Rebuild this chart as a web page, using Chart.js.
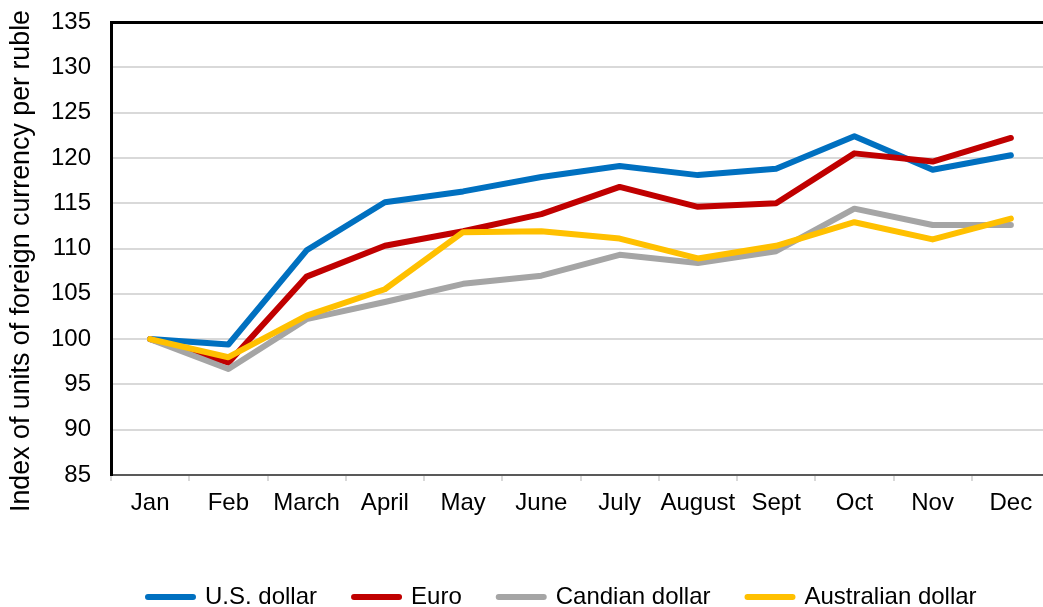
<!DOCTYPE html>
<html>
<head>
<meta charset="utf-8">
<script src="https://cdn.jsdelivr.net/npm/chart.js@4.4.1/dist/chart.umd.min.js"></script>
<style>
  html, body { margin: 0; padding: 0; background: #fff; overflow: hidden; }
  #wrap { width: 1050px; height: 619px; }
</style>
</head>
<body>
<div id="wrap"><canvas id="c" width="1050" height="619"></canvas></div>
<script>
// Ruble index chart: units of foreign currency per ruble, Jan = 100

const months = ['Jan', 'Feb', 'March', 'April', 'May', 'June', 'July', 'August', 'Sept', 'Oct', 'Nov', 'Dec'];
const usd = [100, 99.4, 109.8, 115.1, 116.3, 117.9, 119.1, 118.1, 118.8, 122.4, 118.7, 120.3];
const eur = [100, 97.4, 106.9, 110.3, 111.9, 113.8, 116.8, 114.6, 115.0, 120.5, 119.6, 122.2];
const cad = [100, 96.7, 102.2, 104.1, 106.1, 107.0, 109.3, 108.4, 109.7, 114.4, 112.6, 112.6];
const aud = [100, 98.0, 102.6, 105.5, 111.8, 111.9, 111.1, 108.9, 110.3, 112.9, 111.0, 113.3];

const Y_TITLE = 'Index of units of foreign currency per ruble';
const FONT = "'Liberation Sans', Arial, sans-serif";

const line = (label, data, color, order) => ({
  label,
  data,
  borderColor: color,
  backgroundColor: color,
  borderWidth: 6,
  borderCapStyle: 'round',
  borderJoinStyle: 'round',
  pointRadius: 0,
  pointHoverRadius: 0,
  tension: 0,
  order,
});

// axis title sits a bit below the plot centre in the original, so draw it by hand
const yTitle = {
  id: 'yTitle',
  afterDraw(chart) {
    const { ctx } = chart;
    ctx.save();
    ctx.translate(22, 261);
    ctx.rotate(-Math.PI / 2);
    ctx.font = `26.8px ${FONT}`;
    ctx.fillStyle = '#000';
    ctx.textAlign = 'center';
    ctx.textBaseline = 'middle';
    ctx.fillText(Y_TITLE, 0, 0);
    ctx.restore();
  },
};

new Chart(document.getElementById('c'), {
  type: 'line',
  data: {
    labels: months,
    datasets: [
      line('U.S. dollar', usd, '#0070C0', 3),
      line('Euro', eur, '#C00000', 2),
      line('Candian dollar', cad, '#A5A5A5', 1),
      line('Australian dollar', aud, '#FFC000', 0),
    ],
  },
  plugins: [yTitle],
  options: {
    responsive: false,
    animation: false,
    layout: { padding: { top: 22, left: 0, right: 0, bottom: 0 } },
    plugins: {
      tooltip: { enabled: false },
      legend: {
        position: 'bottom',
        align: 'start',
        fullSize: false,
        labels: {
          color: '#000',
          font: { family: FONT, size: 24 },
          // flat box stroked with round joins -> short rounded bar
          boxWidth: 45,
          boxHeight: 0,
          padding: 37,
          sort: (a, b) => a.datasetIndex - b.datasetIndex,
        },
      },
    },
    scales: {
      x: {
        offset: true,
        grid: {
          offset: true,
          drawOnChartArea: false,
          drawTicks: true,
          tickLength: 6,
          color: '#d9d9d9',
          lineWidth: 2,
        },
        border: { color: '#595959', width: 2 },
        ticks: { color: '#000', font: { family: FONT, size: 24 }, padding: 8, maxRotation: 0, autoSkip: false },
        afterFit: (s) => { s.height = 73; },
      },
      x2: {
        type: 'category',
        position: 'top',
        labels: months,
        grid: { display: false, drawTicks: false },
        ticks: { display: false },
        border: { color: '#000', width: 3 },
        afterFit: (s) => { s.height = 0; },
      },
      y: {
        min: 85,
        max: 135,
        ticks: { stepSize: 5, color: '#000', font: { family: FONT, size: 24 }, padding: 0 },
        grid: { color: '#d9d9d9', lineWidth: 2, drawTicks: true, tickLength: 20, tickColor: 'transparent' },
        border: { color: '#000', width: 3 },
        afterFit: (s) => { s.width = 111; },
      },
    },
  },
});
</script>
</body>
</html>
